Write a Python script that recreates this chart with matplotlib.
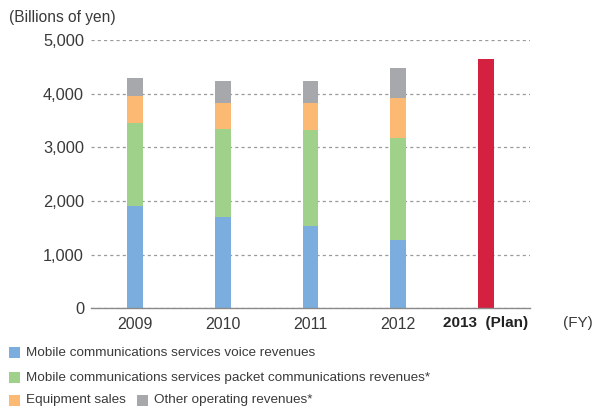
import matplotlib.pyplot as plt
from matplotlib.patches import Rectangle

plt.rcParams['font.family'] = ['Liberation Sans', 'DejaVu Sans']

# Operating revenues by fiscal year (billions of yen)
years = ['2009', '2010', '2011', '2012']
voice = [1911, 1706, 1538, 1272]
packet = [1546, 1639, 1788, 1905]
equipment = [503, 478, 497, 739]
other = [329, 410, 417, 559]
plan_label = '2013'
plan_total = 4640

series = [
    (voice, '#7badde', 'Mobile communications services voice revenues'),
    (packet, '#9fd18b', 'Mobile communications services packet communications revenues*'),
    (equipment, '#fbb973', 'Equipment sales'),
    (other, '#a7a8ab', 'Other operating revenues*'),
]
plan_color = '#d4213f'
text_color = '#3a3a3a'

fig = plt.figure(figsize=(6.01, 4.07), dpi=100)
ax = fig.add_axes([0.1514, 0.2425, 0.7305, 0.6597])

x = list(range(len(years)))
bottom = [0] * len(years)
for vals, col, _ in series:
    ax.bar(x, vals, width=0.182, bottom=bottom, color=col, zorder=3)
    bottom = [b + v for b, v in zip(bottom, vals)]
ax.bar([len(years)], [plan_total], width=0.182, color=plan_color, zorder=3)

ax.set_xlim(-0.5, 4.5)
ax.set_ylim(0, 5000)
ax.set_yticks([0, 1000, 2000, 3000, 4000, 5000])
ax.set_yticklabels(['0', '1,000', '2,000', '3,000', '4,000', '5,000'])
ax.yaxis.grid(True, linestyle=(0, (2.5, 2.5)), color='#9a9a9a', linewidth=0.9, zorder=0)
ax.set_xticks(range(len(years) + 1))
ax.set_xticklabels(years + [''])
ax.tick_params(axis='both', length=0, colors=text_color)
ax.tick_params(axis='y', pad=5, labelsize=11.8)
ax.tick_params(axis='x', pad=6, labelsize=11.5)
for s in ['top', 'right', 'left']:
    ax.spines[s].set_visible(False)
ax.spines['bottom'].set_color('#8a8a8a')
ax.spines['bottom'].set_linewidth(1.0)
ax.spines['bottom'].set_zorder(4)

# Plan year label: bold year plus "(Plan)"
fig.text(0.8087, 0.2065, plan_label + '  (Plan)', ha='center', va='center',
         fontsize=11, fontweight='bold', color='#222222')
fig.text(0.962, 0.2065, '(FY)', ha='center', va='center', fontsize=11, color=text_color)
fig.text(0.015, 0.958, '(Billions of yen)', ha='left', va='center', fontsize=11.2, color=text_color)

# Legend rows
def legend_item(xp, yp, col, label):
    fig.patches.append(Rectangle((xp, yp - 0.0135), 0.018, 0.027, transform=fig.transFigure,
                                 facecolor=col, edgecolor='none', figure=fig))
    fig.text(xp + 0.028, yp, label, ha='left', va='center', fontsize=9.7, color=text_color)

legend_item(0.015, 0.133, series[0][1], series[0][2])
legend_item(0.015, 0.072, series[1][1], series[1][2])
legend_item(0.015, 0.017, series[2][1], series[2][2])
legend_item(0.228, 0.017, series[3][1], series[3][2])

fig.savefig('out.png', dpi=100)
